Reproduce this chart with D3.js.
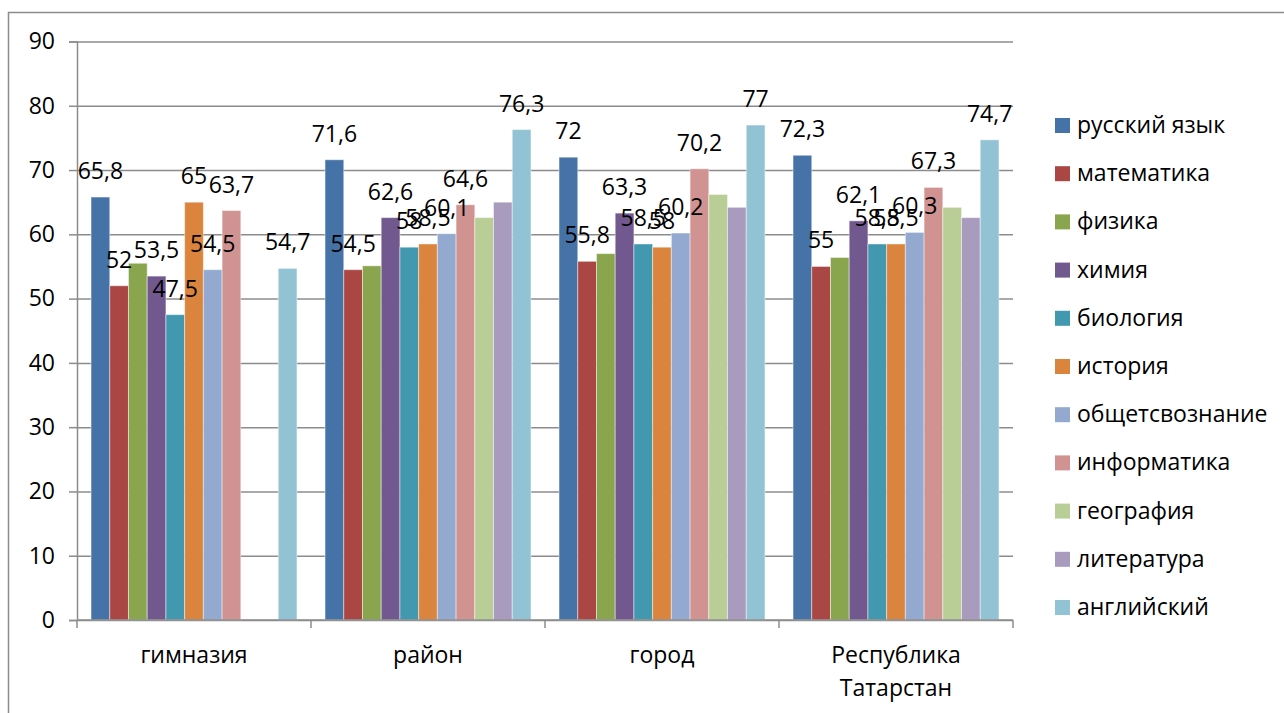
<!DOCTYPE html>
<html>
<head>
<meta charset="utf-8">
<script src="https://cdn.jsdelivr.net/npm/d3@7"></script>
<style>
    body { margin: 0; background: #fff; }
    svg { display: block; font-family: "Open Sans", "Noto Sans", sans-serif; }
</style>
</head>
<body>
<svg id="chart"></svg>
<script>
// Data
var categories = ["гимназия", "район", "город", "Республика Татарстан"];
var subjects = ["русский язык", "математика", "физика", "химия", "биология", "история",
    "общетсвознание", "информатика", "география", "литература", "английский"];
var colors = ["#4572A7", "#AA4643", "#89A54E", "#71588F", "#4198AF", "#DB843D",
    "#93A9CF", "#D19392", "#B9CD96", "#A99BBD", "#92C3D4"];
// which series carry data labels
var labelled = [true, true, false, true, true, true, true, true, false, false, true];

// one row per subject, one value per category (null = no data)
var rusValues = [65.8, 71.6, 72, 72.3];
var mathValues = [52, 54.5, 55.8, 55];
var physValues = [55.5, 55.1, 57, 56.4];
var chemValues = [53.5, 62.6, 63.3, 62.1];
var bioValues = [47.5, 58, 58.5, 58.5];
var histValues = [65, 58.5, 58, 58.5];
var socValues = [54.5, 60.1, 60.2, 60.3];
var infValues = [63.7, 64.6, 70.2, 67.3];
var geoValues = [null, 62.6, 66.2, 64.2];
var litValues = [null, 65, 64.2, 62.6];
var engValues = [54.7, 76.3, 77, 74.7];
var values = [rusValues, mathValues, physValues, chemValues, bioValues, histValues,
    socValues, infValues, geoValues, litValues, engValues];

var yTicks = [0, 10, 20, 30, 40, 50, 60, 70, 80, 90];

// Variables
var width = 1284;
var height = 713;
var plot = { left: 77, right: 1013, top: 41.5, bottom: 620 };
var gridColor = "#8c8c8c";
var fontSize = 23;

var svg = d3.select("#chart")
    .attr("width", width)
    .attr("height", height);

// Outer chart border (runs off the right and bottom edges)
svg.append("rect")
    .attr("x", 8.5).attr("y", 12.5)
    .attr("width", 1300).attr("height", 720)
    .attr("fill", "none")
    .attr("stroke", gridColor)
    .attr("stroke-width", 1.5);

// Scales
var x0 = d3.scaleBand()
    .domain(categories)
    .range([plot.left, plot.right]);

var x1 = d3.scaleBand()
    .domain(subjects)
    .range([0, x0.bandwidth()])
    .paddingOuter(0.75);

var y = d3.scaleLinear()
    .domain([0, 90])
    .range([plot.bottom, plot.top]);

// Gridlines and y axis
var yAxis = d3.axisLeft(y)
    .tickValues(yTicks)
    .tickSize(8)
    .tickPadding(14)
    .tickFormat(d3.format("d"));

var yg = svg.append("g")
    .attr("transform", "translate(" + plot.left + ",0)")
    .call(yAxis);

yg.selectAll(".tick").append("line")
    .attr("x1", 0).attr("x2", plot.right - plot.left)
    .attr("stroke", gridColor)
    .attr("stroke-width", 1.5);

yg.select(".domain").attr("stroke", gridColor).attr("stroke-width", 1.5);
yg.selectAll(".tick line").attr("stroke", gridColor).attr("stroke-width", 1.5);
yg.selectAll(".tick text")
    .attr("font-size", fontSize)
    .attr("font-family", "Open Sans")
    .attr("fill", "#000");

// Flatten the values into one record per bar
var bars = [];
categories.forEach(function (c, ci) {
    subjects.forEach(function (s, si) {
        if (values[si][ci] !== null) {
            bars.push({ category: c, subject: s, index: si, value: values[si][ci] });
        }
    });
});

var barX = function (d) { return x0(d.category) + x1(d.subject); };

// Bars
svg.append("g").selectAll("rect")
    .data(bars)
    .enter().append("rect")
    .attr("x", barX)
    .attr("y", function (d) { return y(d.value); })
    .attr("width", x1.bandwidth())
    .attr("height", function (d) { return y(0) - y(d.value); })
    .attr("fill", function (d) { return colors[d.index]; })
    .attr("stroke", "rgba(255,255,255,0.45)")
    .attr("stroke-width", 1);

// X axis drawn over the bars
var xAxisLine = svg.append("g");
xAxisLine.append("line")
    .attr("x1", plot.left).attr("x2", plot.right)
    .attr("y1", plot.bottom).attr("y2", plot.bottom)
    .attr("stroke", gridColor)
    .attr("stroke-width", 1.5);

var bounds = categories.map(function (c) { return x0(c); }).concat([plot.right]);
xAxisLine.selectAll("line.tick")
    .data(bounds)
    .enter().append("line")
    .attr("class", "tick")
    .attr("x1", function (d) { return d; }).attr("x2", function (d) { return d; })
    .attr("y1", plot.bottom).attr("y2", plot.bottom + 8)
    .attr("stroke", gridColor)
    .attr("stroke-width", 1.5);

// Category labels (wrap "Республика Татарстан")
svg.selectAll("text.cat-label")
    .data(categories)
    .enter().append("text")
    .attr("class", "cat-label")
    .attr("x", function (d) { return x0(d) + x0.bandwidth() / 2; })
    .attr("y", 663)
    .attr("text-anchor", "middle")
    .attr("font-size", fontSize)
    .each(function (d) {
        var words = d.split(" ");
        var t = d3.select(this);
        if (words.length > 1) {
            words.forEach(function (w, i) {
                t.append("tspan")
                    .attr("x", x0(d) + x0.bandwidth() / 2)
                    .attr("dy", i === 0 ? 0 : 33)
                    .text(w);
            });
        } else {
            t.text(d);
        }
    });

// Data labels, on their own layer above all bars
var fmt = function (v) { return String(v).replace(".", ","); };
svg.append("g").selectAll("text")
    .data(bars.filter(function (d) { return labelled[d.index]; }))
    .enter().append("text")
    .attr("x", function (d) { return barX(d) + x1.bandwidth() / 2; })
    .attr("y", function (d) { return y(d.value) - 18; })
    .attr("text-anchor", "middle")
    .attr("font-size", fontSize)
    .attr("fill", "#000")
    .text(function (d) { return fmt(d.value); });

// Legend
var legend = svg.append("g")
    .attr("transform", "translate(1055,0)");

var item = legend.selectAll("g")
    .data(subjects)
    .enter().append("g")
    .attr("transform", function (d, i) { return "translate(0," + (125 + i * 48.2) + ")"; });

item.append("rect")
    .attr("x", 0).attr("y", -7)
    .attr("width", 15).attr("height", 15)
    .attr("fill", function (d, i) { return colors[i]; });

item.append("text")
    .attr("x", 22)
    .attr("y", 8)
    .attr("font-size", fontSize)
    .attr("fill", "#000")
    .text(function (d) { return d; });
</script>
</body>
</html>
